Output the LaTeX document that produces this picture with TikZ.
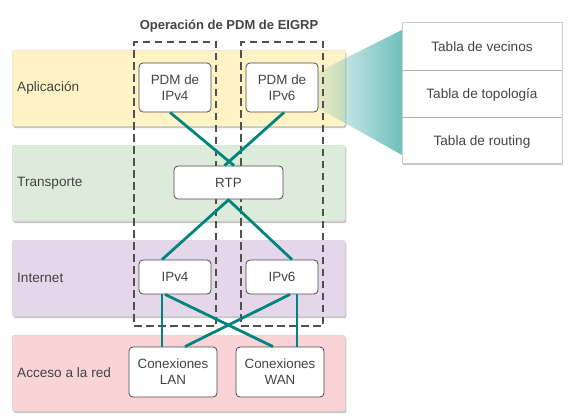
\documentclass[tikz,border=0pt]{standalone}
\usepackage{fontspec}
\setmainfont{Liberation Sans}
\usetikzlibrary{fadings,shadows}
\definecolor{linkc}{HTML}{00857D}
\definecolor{wedgec}{HTML}{6FBFBA}
\definecolor{appc}{HTML}{FFF2C4}
\definecolor{trc}{HTML}{DDEBDA}
\definecolor{inc}{HTML}{E3D7E9}
\definecolor{acc}{HTML}{F9D3D5}
\definecolor{txt}{HTML}{444444}
\definecolor{dashc}{HTML}{505050}
\tikzfading[name=wedgefade, left color=transparent!85, right color=transparent!0]
\tikzset{
  band/.style={anchor=north west, rounded corners=1.5pt, draw=black!15, inner sep=0pt,
    minimum width=333pt, minimum height=76pt,
    drop shadow={shadow xshift=1.2pt, shadow yshift=-1.8pt, opacity=0.45}},
  bandlabel/.style={anchor=west, text=txt, font=\fontsize{13.6}{15}\selectfont, inner sep=0pt},
  box/.style={draw=black!70, fill=white, rounded corners=4pt, line width=0.8pt, text=txt,
    align=center, font=\fontsize{13.4}{16}\selectfont, inner sep=0pt},
  dbox/.style={anchor=north west, draw=dashc, line width=2.4pt, dash pattern=on 7.5pt off 4.5pt,
    inner sep=0pt, minimum width=82pt, minimum height=284pt},
  link/.style={draw=linkc, line width=2.8pt},
  rowtext/.style={text=txt, font=\fontsize{13.6}{15}\selectfont, inner sep=0pt},
}
\begin{document}
\begin{tikzpicture}[x=1pt,y=-1pt]
\useasboundingbox (0,0) rectangle (569,417);
% bands
\node[band, fill=appc] (app) at (12,50) {};
\node[band, fill=trc] (tra) at (12,145) {};
\node[band, fill=inc] (int) at (12,240) {};
\node[band, fill=acc] (acc) at (12,335) {};
\node[bandlabel] (lapp) at (17,88) {Aplicación};
\node[bandlabel] (ltra) at (17,183) {Transporte};
\node[bandlabel] (lint) at (17,278) {Internet};
\node[bandlabel] (lacc) at (17,373) {Acceso a la red};
% wedge
\fill[wedgec, path fading=wedgefade] (318,72) -- (402,30) -- (402,155) -- (318,108) -- cycle;
% dashed boxes
\node[dbox] (dl) at (133,41) {};
\node[dbox] (dr) at (240,41) {};
\node[text=txt, font=\bfseries\fontsize{13}{15}\selectfont, inner sep=0pt] (title) at (229,26) {Operación de PDM de EIGRP};
% nodes
\node[box, minimum width=72pt, minimum height=49pt] (pdm4) at (175,87.5) {PDM de\\IPv4};
\node[box, minimum width=72pt, minimum height=49pt] (pdm6) at (282,87.5) {PDM de\\IPv6};
\node[box, minimum width=109pt, minimum height=33pt] (rtp) at (228.5,182.5) {RTP};
\node[box, minimum width=72pt, minimum height=34pt] (ip4) at (175,277) {IPv4};
\node[box, minimum width=72pt, minimum height=34pt] (ip6) at (282,277) {IPv6};
\node[box, minimum width=88pt, minimum height=50pt] (lan) at (173,372) {Conexiones\\LAN};
\node[box, minimum width=88pt, minimum height=50pt] (wan) at (280,372) {Conexiones\\WAN};
% links
\draw[link] ([xshift=-5pt]pdm4.south) -- ([xshift=5.5pt]rtp.north);
\draw[link] ([xshift=2pt]pdm6.south) -- ([xshift=-4pt]rtp.north);
\draw[link] ([xshift=-13pt]ip4.north) -- ([xshift=0.5pt]rtp.south);
\draw[link] ([xshift=10pt]ip6.north) -- ([xshift=-0.5pt]rtp.south);
\draw[link] ([xshift=-13pt]ip4.south) -- ([xshift=-11pt]lan.north);
\draw[link] ([xshift=15pt]ip6.south) -- ([xshift=17pt]wan.north);
\draw[link] ([xshift=-10pt]ip4.south) -- ([xshift=-7pt]wan.north);
\draw[link] ([xshift=8pt]ip6.south) -- ([xshift=12pt]lan.north);
% tables
\node[anchor=north west, draw=black!20, fill=white, inner sep=0pt, minimum width=160pt, minimum height=141pt,
  drop shadow={shadow xshift=1.2pt, shadow yshift=-1.8pt, opacity=0.45}] (tab) at (402,22) {};
\draw[black!30, line width=0.8pt] (402,70) -- (562,70);
\draw[black!30, line width=0.8pt] (402,117) -- (562,117);
\node[rowtext] (t1) at (482,47) {Tabla de vecinos};
\node[rowtext] (t2) at (482,95) {Tabla de topología};
\node[rowtext] (t3) at (482,142) {Tabla de routing};
\end{tikzpicture}
\end{document}
